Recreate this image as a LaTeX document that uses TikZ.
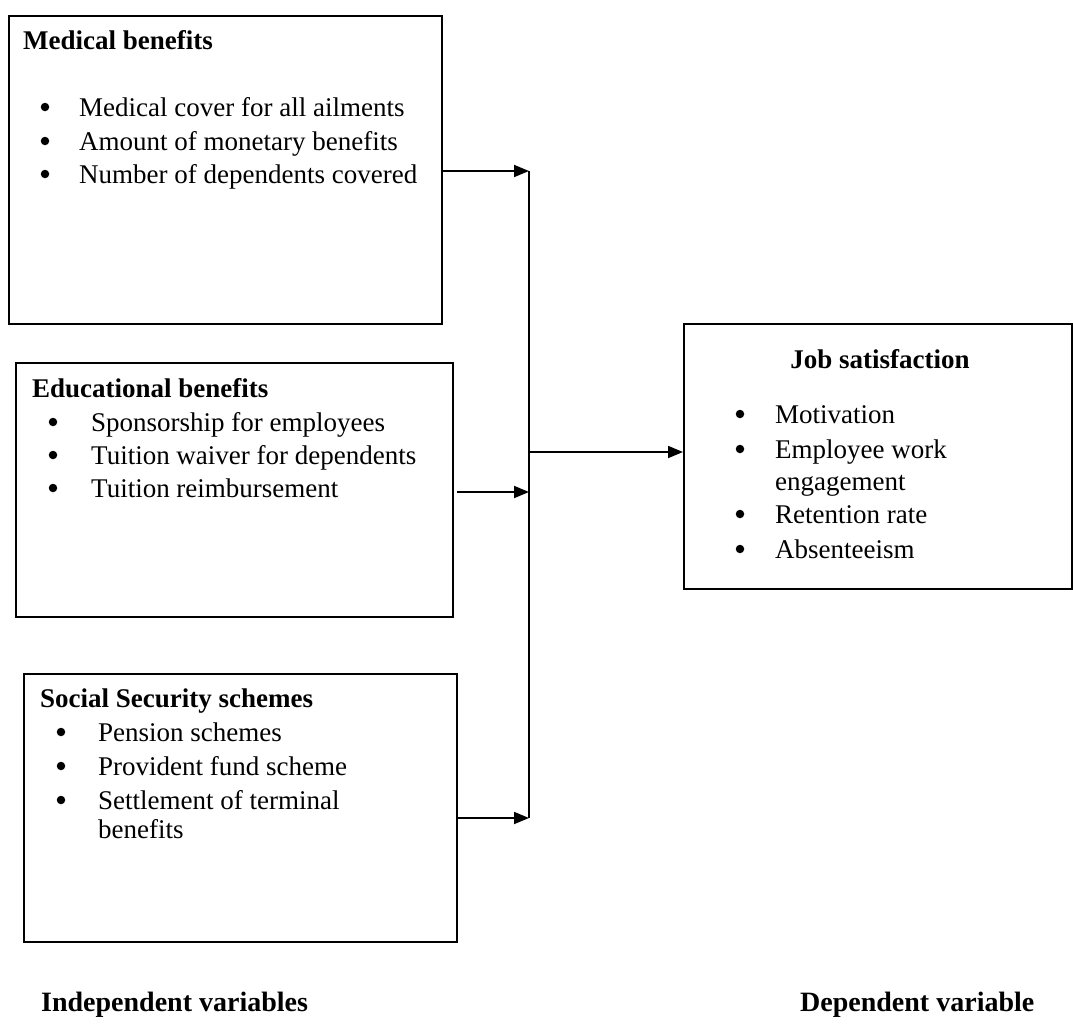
\documentclass[tikz,border=0pt]{standalone}
\usepackage{fontspec}
\setmainfont{Liberation Serif}
\usetikzlibrary{arrows.meta}
\begin{document}
\begin{tikzpicture}[x=1pt,y=-1pt,
 box/.style={draw, line width=1.8pt, inner sep=0pt, anchor=north west},
 txt/.style={anchor=base west, inner sep=0pt, font=\fontsize{27}{33}\selectfont},
 ttl/.style={anchor=base west, inner sep=0pt, font=\fontsize{27}{33}\selectfont\bfseries},
 bul/.style={circle, fill, inner sep=0pt, minimum size=8.5pt},
 lbl/.style={anchor=base west, inner sep=0pt, font=\fontsize{28}{33}\selectfont\bfseries},
 arr/.style={line width=1.8pt, -{Triangle[length=15pt,width=12pt]}},
 lne/.style={line width=1.8pt}
]
\useasboundingbox (0,0) rectangle (1073,1025);

% boxes
\node[box, minimum width=433pt, minimum height=308pt] (m) at (8,15) {};
\node[box, minimum width=437pt, minimum height=254pt] (e) at (15,362) {};
\node[box, minimum width=433pt, minimum height=268pt] (s) at (23,673) {};
\node[box, minimum width=388pt, minimum height=265pt] (j) at (683,323) {};

% Medical benefits
\node[ttl] (mt) at (23,50) {Medical benefits};
\node[bul] (mb1) at (45,107) {};
\node[bul] (mb2) at (45,141) {};
\node[bul] (mb3) at (45,174) {};
\node[txt] (m1) at (79,116) {Medical cover for all ailments};
\node[txt] (m2) at (79,150) {Amount of monetary benefits};
\node[txt] (m3) at (79,183) {Number of dependents covered};

% Educational benefits
\node[ttl] (et) at (32,397) {Educational benefits};
\node[bul] (eb1) at (53,422) {};
\node[bul] (eb2) at (53,455) {};
\node[bul] (eb3) at (53,488) {};
\node[txt] (e1) at (91,431) {Sponsorship for employees};
\node[txt] (e2) at (91,464) {Tuition waiver for dependents};
\node[txt] (e3) at (91,497) {Tuition reimbursement};

% Social Security schemes
\node[ttl] (st) at (40,707) {Social Security schemes};
\node[bul] (sb1) at (61,732) {};
\node[bul] (sb2) at (61,766) {};
\node[bul] (sb3) at (61,800) {};
\node[txt] (s1) at (98,741) {Pension schemes};
\node[txt] (s2) at (98,775) {Provident fund scheme};
\node[txt] (s3) at (98,809) {Settlement of terminal};
\node[txt] (s4) at (98,838) {benefits};

% Job satisfaction
\node[ttl, anchor=base] (jt) at (880,368) {Job satisfaction};
\node[bul] (jb1) at (740,414) {};
\node[bul] (jb2) at (740,449) {};
\node[bul] (jb3) at (740,514) {};
\node[bul] (jb4) at (740,549) {};
\node[txt] (j1) at (775,423) {Motivation};
\node[txt] (j2) at (775,458) {Employee work};
\node[txt] (j3) at (775,490) {engagement};
\node[txt] (j4) at (775,523) {Retention rate};
\node[txt] (j5) at (775,558) {Absenteeism};

% labels
\node[lbl] (li) at (41,1011) {Independent variables};
\node[lbl] (ld) at (800,1011) {Dependent variable};

% connectors
\coordinate (ct) at (529,171);
\coordinate (cm) at (529,492);
\coordinate (cj) at (529,452);
\coordinate (cb) at (529,818);
\draw[lne] (ct) -- (cb);
\draw[arr] (m.east |- ct) -- (ct);
\draw[arr] ([xshift=3pt]e.east |- cm) -- (cm);
\draw[arr] (s.east |- cb) -- (cb);
\draw[arr] (cj) -- (j.west |- cj);
\end{tikzpicture}
\end{document}
